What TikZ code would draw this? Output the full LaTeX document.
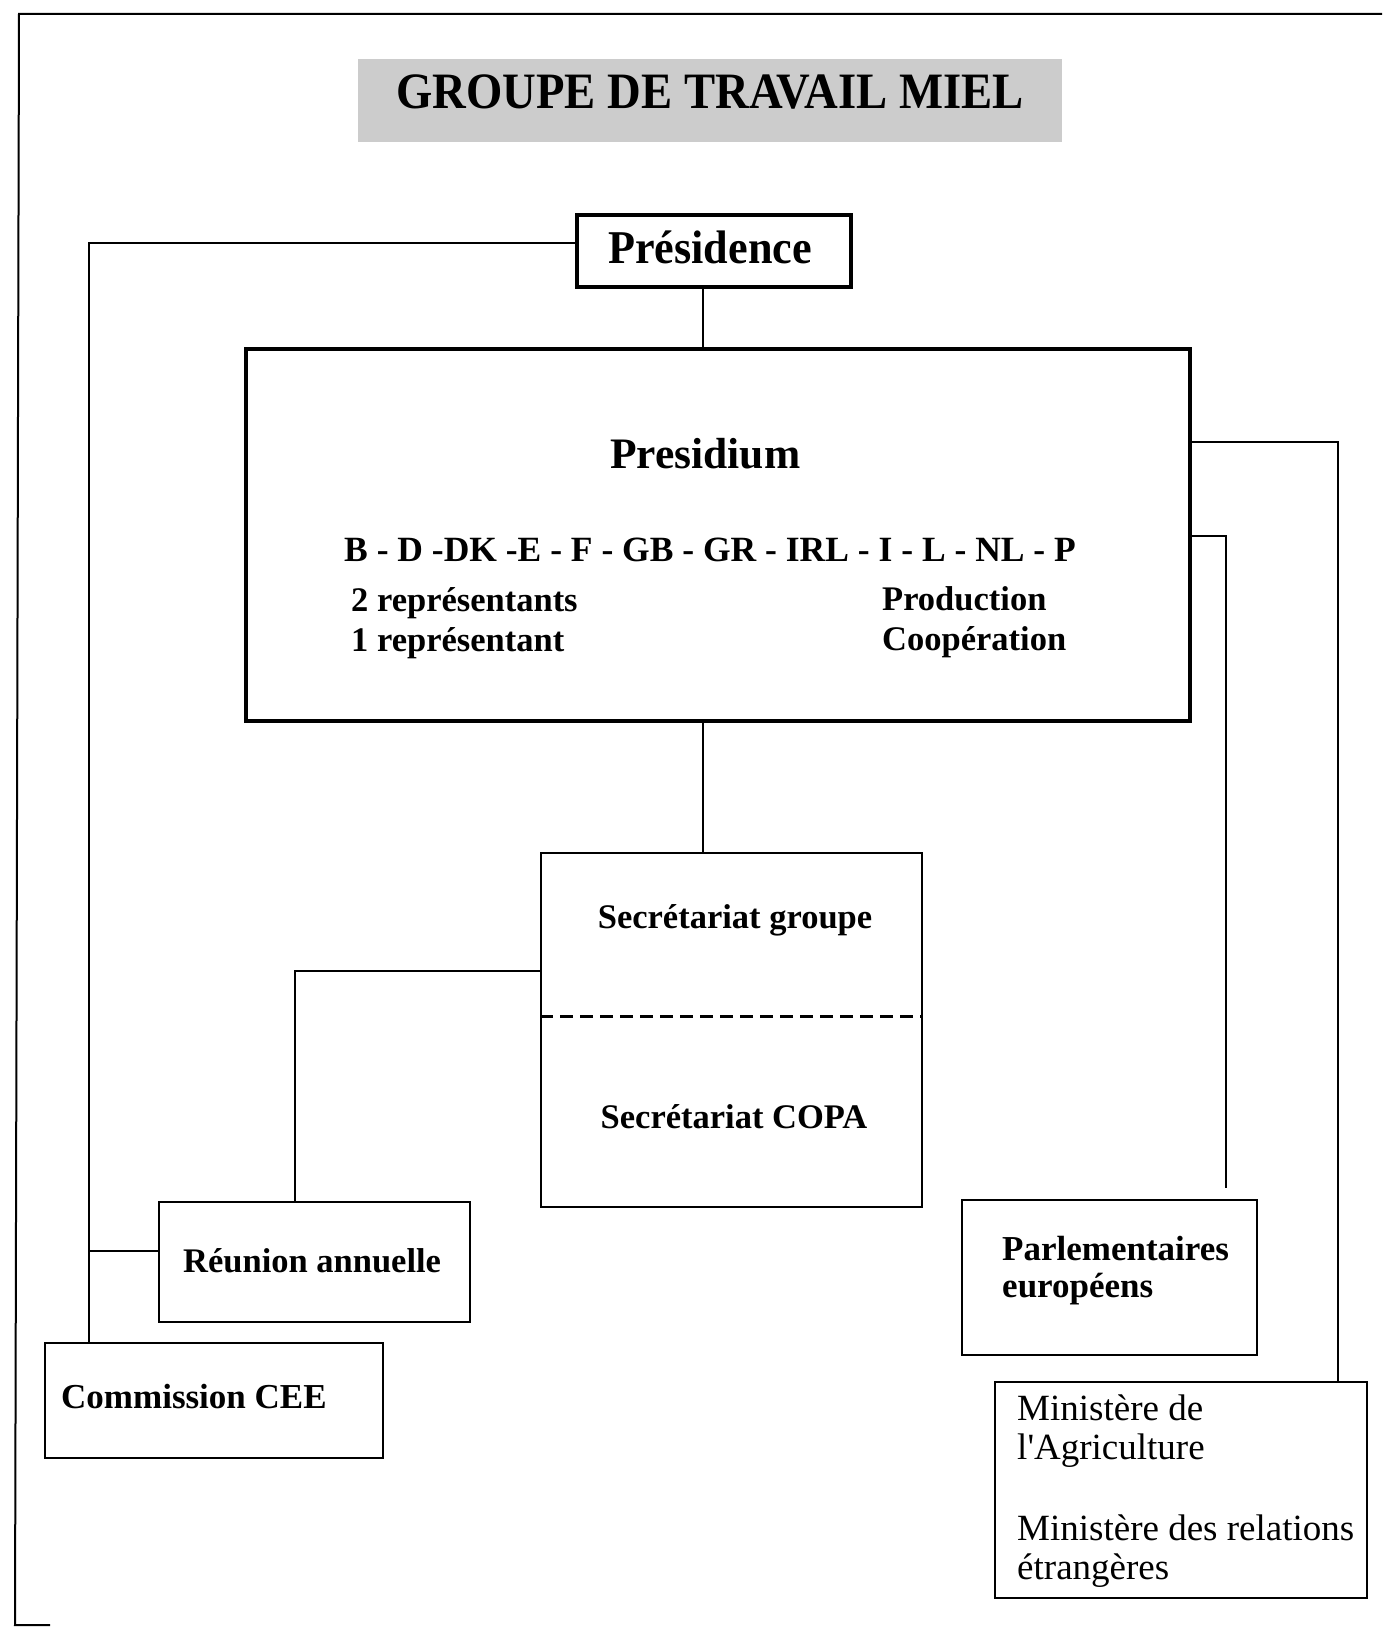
\documentclass[tikz,border=0pt]{standalone}
\usepackage{fontspec}
\setmainfont{Liberation Serif}
\newcommand\fsz[1]{\fontsize{#1}{#1}\selectfont}
\begin{document}
\begin{tikzpicture}[x=1pt,y=-1pt,
  box/.style={draw, rectangle, inner sep=0pt, line width=1.6pt},
  heavy/.style={box, line width=3.2pt},
  conn/.style={line width=2pt},
  bt/.style={inner sep=0pt, font=\bfseries\fsz{34.5}},
  rt/.style={inner sep=0pt, font=\fsz{37}, anchor=base west},
]
\useasboundingbox (0,0) rectangle (1382,1629);
% page frame
\draw[line width=2pt] (1382,14) -- (19,14) -- (15,1625) -- (50,1625);

% title
\node[fill=gray!40, minimum width=704pt, minimum height=83pt, inner sep=0pt] (titlebox) at (710,100.5) {};
\node[bt, font=\bfseries\fsz{51}, anchor=base] (title) at (710,109) {\scalebox{0.915}[1]{GROUPE DE TRAVAIL MIEL}};

% Presidence
\node[heavy, minimum width=274pt, minimum height=72pt] (pres) at (714,251) {};
\node[bt, font=\bfseries\fsz{47}, anchor=base] (prestxt) at (710,264) {\scalebox{0.94}[1]{Présidence}};

% Presidium
\node[heavy, minimum width=944pt, minimum height=372pt] (presidium) at (718,535) {};
\node[bt, font=\bfseries\fsz{43.5}, anchor=base west] (presidiumtxt) at (610,468) {Presidium};
\node[bt, font=\bfseries\fsz{35.5}, anchor=base west] (pays) at (344,561) {B - D -DK -E - F - GB - GR - IRL - I - L - NL - P};
\node[bt, anchor=base west] (rep2) at (351,611) {2 représentants};
\node[bt, anchor=base west] (rep1) at (351,651) {1 représentant};
\node[bt, anchor=base west] (prod) at (882,610) {Production};
\node[bt, anchor=base west] (coop) at (882,650) {Coopération};

% Secretariat
\node[box, minimum width=381pt, minimum height=354pt] (secr) at (731.5,1030) {};
\draw[line width=3pt, dash pattern=on 13pt off 7pt] ([yshift=14pt]secr.west) -- ([yshift=14pt]secr.east);
\node[bt, anchor=base] (secg) at (735,928) {Secrétariat groupe};
\node[bt, anchor=base] (secc) at (734,1128) {Secrétariat COPA};

% Reunion annuelle
\node[box, minimum width=311pt, minimum height=120pt] (reunion) at (314.5,1262) {};
\node[bt, anchor=base west] (reuniontxt) at (183,1272) {Réunion annuelle};

% Commission CEE
\node[box, minimum width=338pt, minimum height=115pt] (comm) at (214,1400.5) {};
\node[bt, font=\bfseries\fsz{35}, anchor=base west] (commtxt) at (61,1408) {Commission CEE};

% Parlementaires
\node[box, minimum width=295pt, minimum height=155pt] (parl) at (1109.5,1277.5) {};
\node[bt, font=\bfseries\fsz{35}, anchor=base west] (parl1) at (1002,1260) {Parlementaires};
\node[bt, font=\bfseries\fsz{35}, anchor=base west] (parl2) at (1002,1297) {européens};

% Ministeres
\node[box, minimum width=372pt, minimum height=216pt] (mini) at (1181,1490) {};
\node[rt] (min1) at (1017,1420) {Ministère de};
\node[rt] (min2) at (1017,1459) {l\textquotesingle Agriculture};
\node[rt] (min3) at (1017,1540) {Ministère des relations};
\node[rt] (min4) at (1017,1579) {étrangères};

% connectors
\coordinate (lv) at ([xshift=-125pt]comm.north);
\draw[conn] ([yshift=8pt]pres.west) -| (lv);
\draw[conn] ([yshift=11pt]reunion.west) -- ([yshift=11pt]reunion.west -| lv);
\draw[conn] ([xshift=-11pt]pres.south) -- ([xshift=-11pt]pres.south |- presidium.north);
\draw[conn] ([xshift=-15pt]presidium.south) -- ([xshift=-15pt]presidium.south |- secr.north);
\draw[conn] ([yshift=59pt]secr.west) -| ([xshift=-19.5pt]reunion.north);
\draw[conn] ([yshift=93pt]presidium.east) -| ([xshift=157pt]mini.north);
\draw[conn, shorten >=11pt] ([yshift=-1pt]presidium.east) -| ([xshift=116.5pt]parl.north);
\end{tikzpicture}
\end{document}
